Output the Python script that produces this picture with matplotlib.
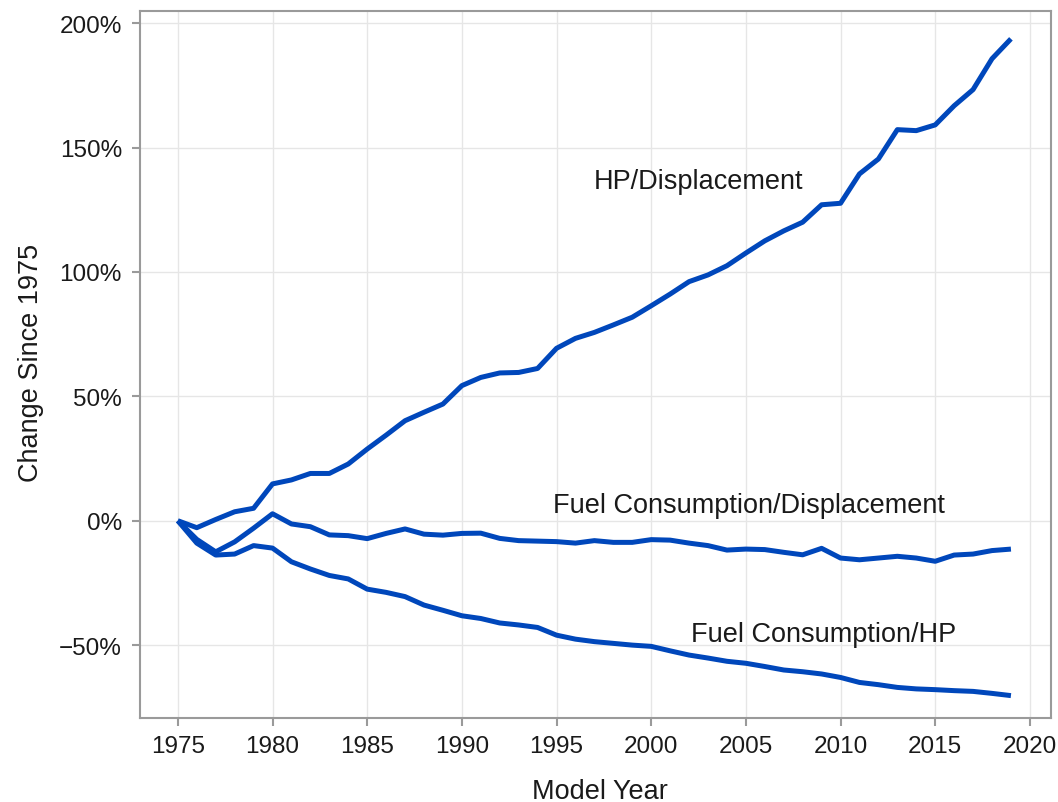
import matplotlib
matplotlib.use("Agg")
import matplotlib.pyplot as plt
from matplotlib.ticker import FuncFormatter

years = list(range(1975, 2020))

hp_per_displacement = [
    0.0, -2.8, 0.5, 3.6, 5.0, 14.8, 16.4, 19.0, 19.0, 22.8,
    28.8, 34.4, 40.2, 43.6, 46.9, 54.3, 57.6, 59.4, 59.6, 61.2,
    69.3, 73.3, 75.7, 78.7, 81.8, 86.4, 91.1, 96.1, 98.8, 102.5,
    107.6, 112.5, 116.5, 120.0, 127.0, 127.6, 139.4, 145.4, 157.2, 156.8,
    159.1, 166.8, 173.3, 185.7, 193.7,
]

fuel_per_displacement = [
    0.0, -7.5, -12.5, -8.5, -3.0, 2.8, -1.3, -2.4, -5.7, -6.0,
    -7.2, -5.1, -3.3, -5.4, -5.8, -5.1, -5.0, -7.1, -8.0, -8.2,
    -8.4, -9.0, -8.0, -8.7, -8.7, -7.6, -7.8, -9.0, -10.0, -11.8,
    -11.4, -11.6, -12.7, -13.7, -11.1, -15.0, -15.7, -15.0, -14.3, -15.0,
    -16.3, -13.8, -13.4, -12.0, -11.4,
]

fuel_per_hp = [
    0.0, -9.0, -13.8, -13.4, -10.0, -11.0, -16.5, -19.4, -22.0, -23.4,
    -27.5, -28.8, -30.5, -33.9, -36.0, -38.2, -39.3, -41.1, -41.9, -42.9,
    -46.0, -47.6, -48.6, -49.3, -50.0, -50.5, -52.3, -54.0, -55.2, -56.5,
    -57.3, -58.6, -60.0, -60.7, -61.6, -63.0, -65.0, -65.9, -67.0, -67.6,
    -67.9, -68.3, -68.6, -69.4, -70.3,
]

labels = ["HP/Displacement", "Fuel Consumption/Displacement", "Fuel Consumption/HP"]
label_pos = [(1996.95, 136.5), (1994.8, 6.3), (2002.1, -45.5)]

x_ticks = list(range(1975, 2021, 5))
y_ticks = [-50, 0, 50, 100, 150, 200]

plt.rcParams['font.family'] = ['Liberation Sans', 'DejaVu Sans']

line_color = '#0047BB'
spine_color = '#9a9a9a'
grid_color = '#e6e6e6'
text_color = '#1a1a1a'

fig = plt.figure(figsize=(10.58, 8.03), dpi=100)
ax = fig.add_axes([0.1323, 0.1046, 0.9931 - 0.1323, 0.9854 - 0.1046])

for series in (hp_per_displacement, fuel_per_displacement, fuel_per_hp):
    ax.plot(years, series, color=line_color, lw=3.6, solid_joinstyle='round',
            solid_capstyle='butt', zorder=3)

for text, (tx, ty) in zip(labels, label_pos):
    ax.text(tx, ty, text, fontsize=19.5, color=text_color, ha='left', va='center')

ax.set_xlim(1973.0, 2021.1)
ax.set_ylim(-79.3, 205)
ax.set_xticks(x_ticks)
ax.set_yticks(y_ticks)
ax.yaxis.set_major_formatter(FuncFormatter(lambda v, p: f"{v:.0f}%".replace("-", "\u2212")))
ax.grid(True, color=grid_color, lw=1.0, zorder=0)
ax.set_axisbelow(True)

for s in ax.spines.values():
    s.set_color(spine_color)
    s.set_linewidth(1.5)

ax.tick_params(axis='both', colors=spine_color, length=6, width=1.5,
               labelcolor=text_color, labelsize=17.5)
ax.tick_params(axis='y', pad=7)
ax.tick_params(axis='x', pad=6)

ax.set_xlabel("Model Year", fontsize=19.5, color=text_color, va='center')
ax.set_ylabel("Change Since 1975", fontsize=19.5, color=text_color, va='center')
ax.xaxis.set_label_coords(0.505, -0.103)
ax.yaxis.set_label_coords(-0.1197, 0.503)

fig.savefig("out.png", dpi=100, facecolor='white')
